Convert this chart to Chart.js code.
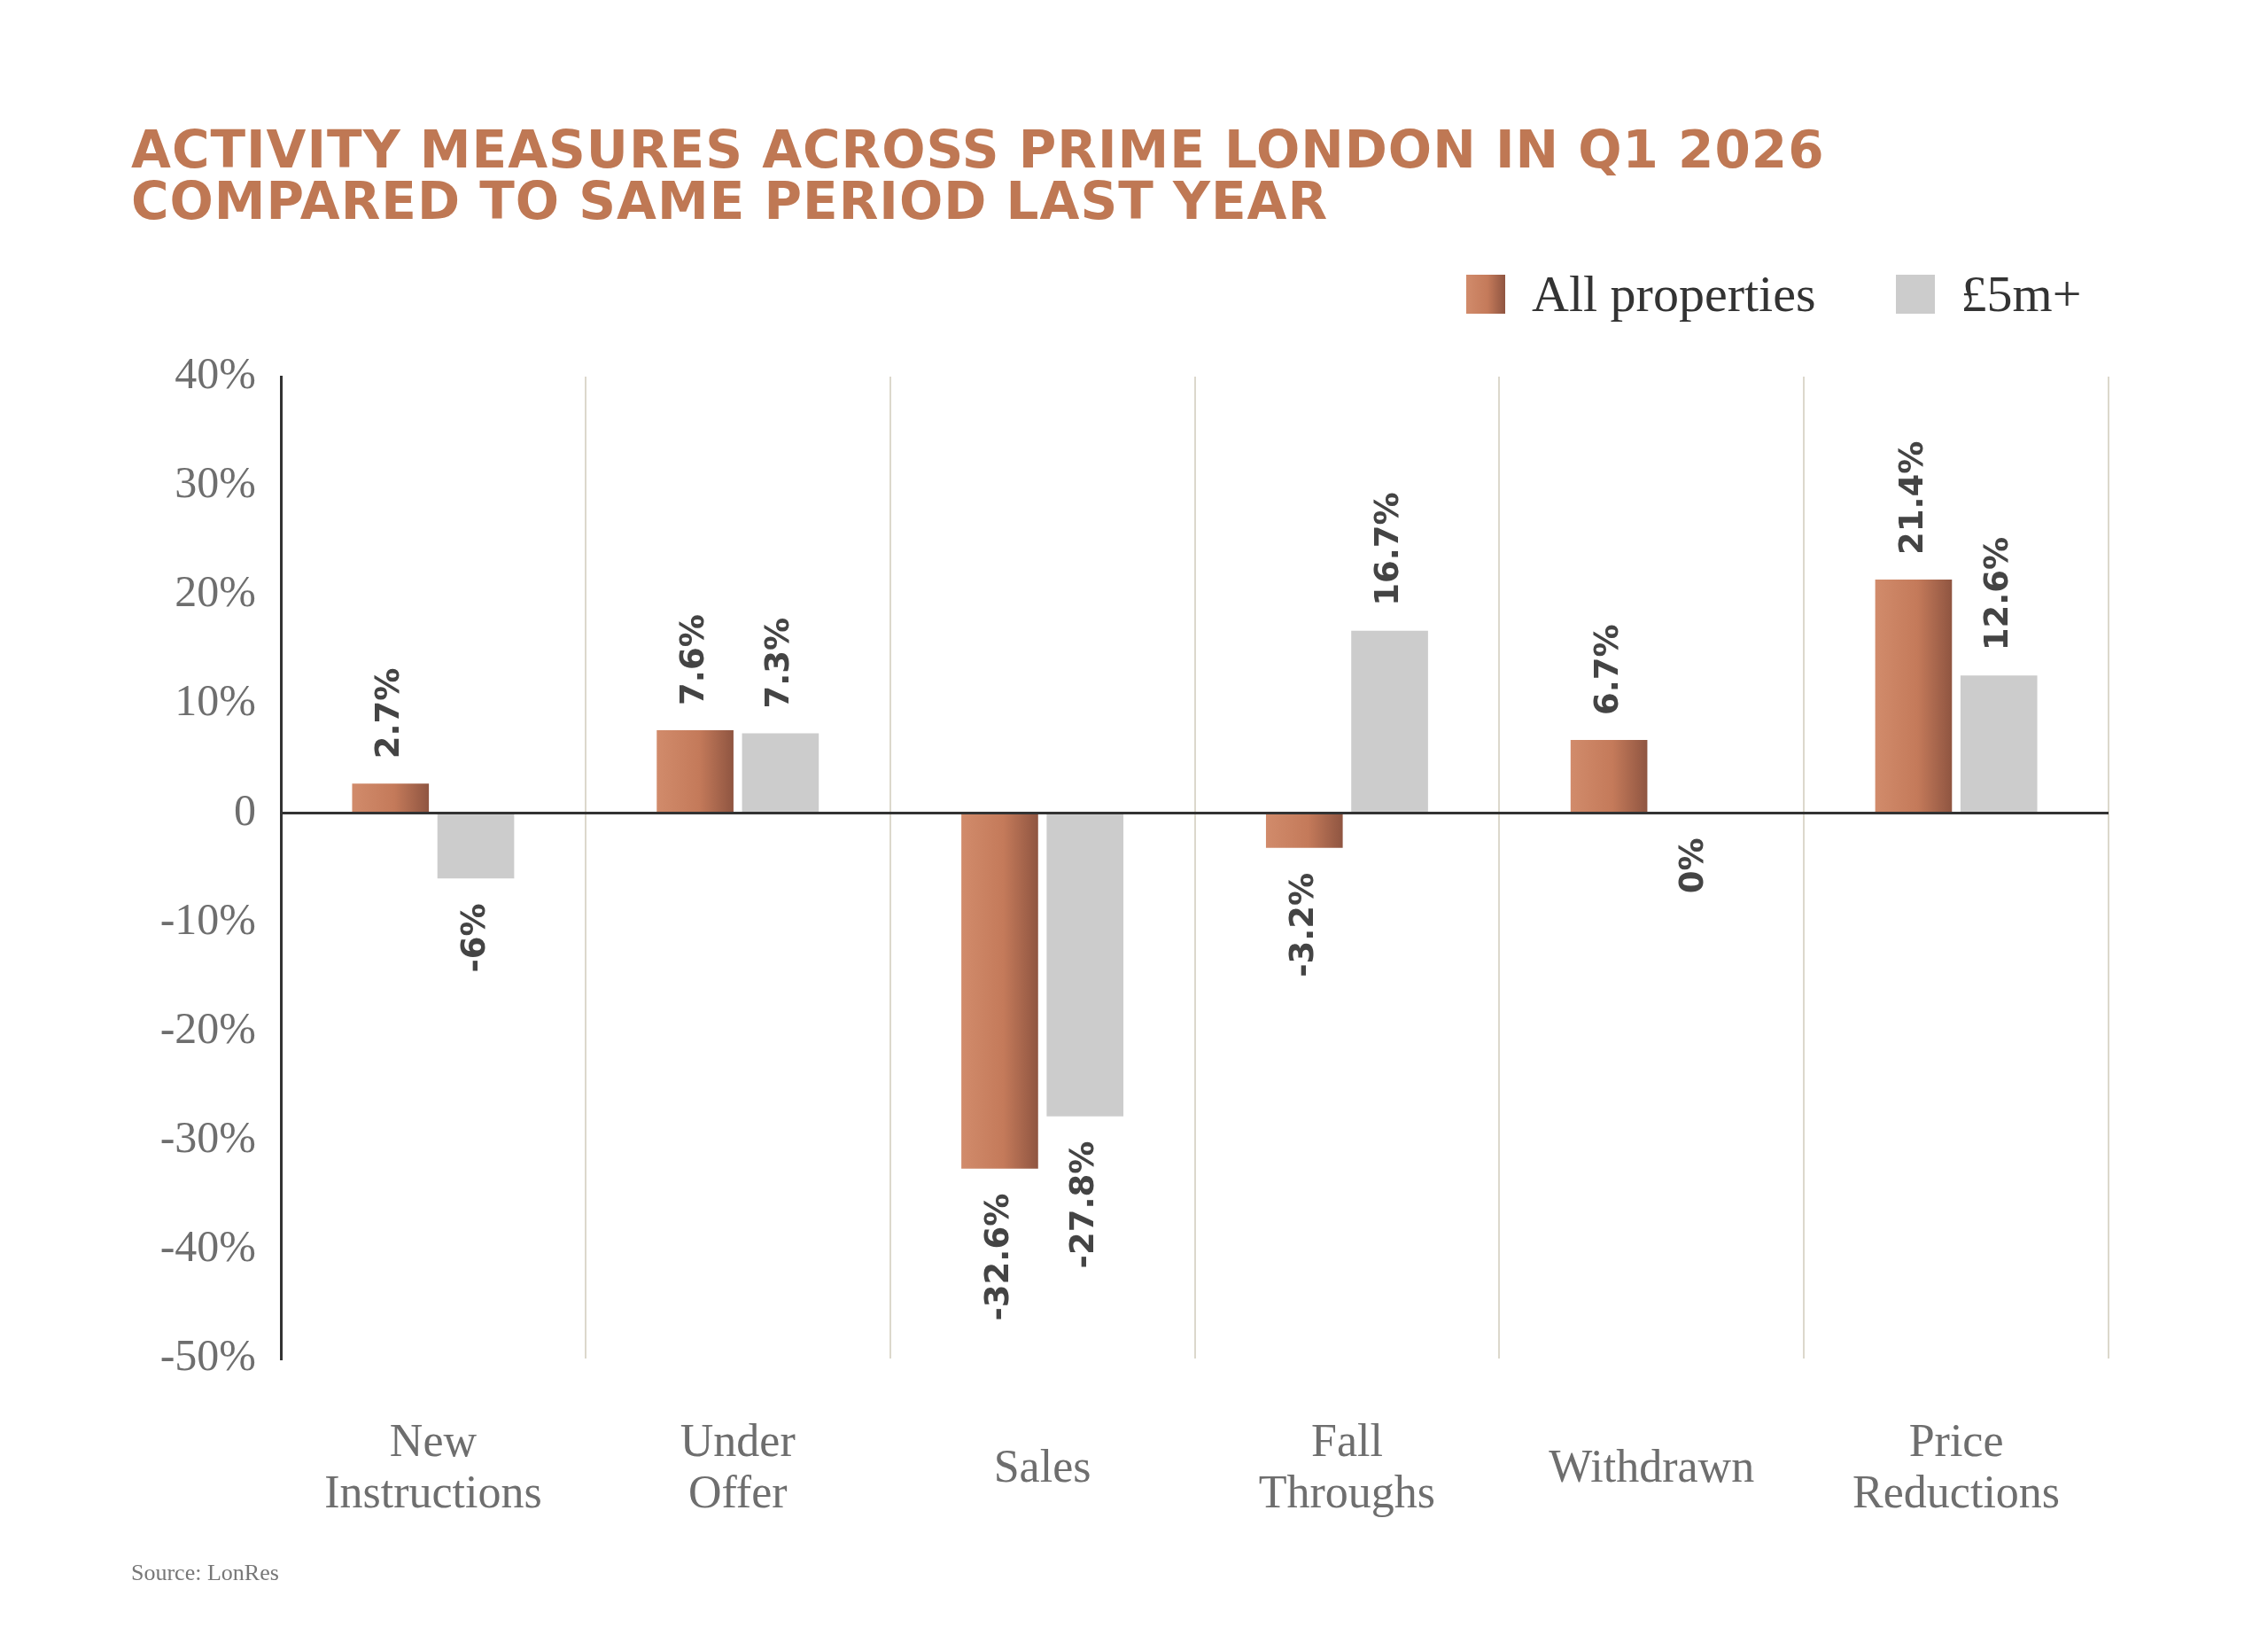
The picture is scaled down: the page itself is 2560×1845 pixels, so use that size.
<!DOCTYPE html>
<html>
<head>
<meta charset="utf-8">
<script src="https://cdn.jsdelivr.net/npm/chart.js@4"></script>
<style>
  html, body { margin: 0; padding: 0; background: #fff; }
  #wrap { position: relative; width: 2560px; height: 1845px; overflow: hidden; }
  #chart { position: absolute; left: 0; top: 0; }
  .title { position: absolute; left: 148px; top: 140px; color: #bf7854; font: bold 58px "DejaVu Sans", sans-serif; line-height: 58px; letter-spacing: 1px; }
  .legend { position: absolute; top: 298px; left: 1655px; font: 58px "Liberation Serif", serif; color: #333; display: flex; align-items: center; }
  .sw { width: 44px; height: 44px; display: inline-block; margin-right: 30px; }
  .source { position: absolute; left: 148px; top: 1760px; font: 26px "Liberation Serif", serif; color: #777; }
</style>
</head>
<body>
<div id="wrap">
  <canvas id="chart" width="2560" height="1845"></canvas>
  <div class="title">ACTIVITY MEASURES ACROSS PRIME LONDON IN Q1 2026<br>COMPARED TO SAME PERIOD LAST YEAR</div>
  <div class="legend">
    <span class="sw" style="background:linear-gradient(90deg,#d18b6b,#c47a5a 55%,#8f5541)"></span>All properties
    <span class="sw" style="background:#cccccc;margin-left:90px"></span>£5m+
  </div>
  <div class="source">Source: LonRes</div>
</div>
<script>
// categories and values
const categories = [['New', 'Instructions'], ['Under', 'Offer'], ['Sales'], ['Fall', 'Throughs'], ['Withdrawn'], ['Price', 'Reductions']];
const allProperties = [2.7, 7.6, -32.6, -3.2, 6.7, 21.4];
const fiveMillionPlus = [-6, 7.3, -27.8, 16.7, 0, 12.6];
const yTicks = [40, 30, 20, 10, 0, -10, -20, -30, -40, -50];

// copper gradient on the "All properties" bars
const gradientBars = {
  id: 'gradientBars',
  beforeDatasetsDraw(chart) {
    const c = chart.ctx;
    chart.getDatasetMeta(0).data.forEach(el => {
      const x0 = el.x - el.width / 2, x1 = el.x + el.width / 2;
      const g = c.createLinearGradient(x0, 0, x1, 0);
      g.addColorStop(0, '#d18b6b');
      g.addColorStop(0.55, '#c47a5a');
      g.addColorStop(1, '#8f5541');
      el.options = Object.assign({}, el.options, { backgroundColor: g });
    });
  }
};

// rotated value labels + category labels
const labelsPlugin = {
  id: 'labelsPlugin',
  afterDatasetsDraw(chart) {
    const c = chart.ctx;
    c.save();
    c.fillStyle = '#444';
    c.font = 'bold 37px "DejaVu Sans", sans-serif';
    c.textBaseline = 'middle';
    chart.data.datasets.forEach((ds, di) => {
      chart.getDatasetMeta(di).data.forEach((el, i) => {
        const v = ds.data[i];
        c.save();
        if (v > 0) {
          c.translate(el.x, el.y - 28);
          c.rotate(-Math.PI / 2);
          c.textAlign = 'left';
        } else {
          c.translate(el.x, Math.max(el.y, el.base) + 28);
          c.rotate(-Math.PI / 2);
          c.textAlign = 'right';
        }
        c.fillText(v + '%', 0, 0);
        c.restore();
      });
    });
    // x category labels, vertically centred
    const xs = chart.scales.x;
    c.fillStyle = '#6e6e6e';
    c.font = '52px "Liberation Serif", serif';
    c.textAlign = 'center';
    categories.forEach((lines, i) => {
      const x = xs.getPixelForValue(i);
      const mid = 1658;
      const lh = 58;
      lines.forEach((t, k) => {
        c.fillText(t, x, mid + (k - (lines.length - 1) / 2) * lh);
      });
    });
    c.restore();
  }
};

new Chart(document.getElementById('chart'), {
  type: 'bar',
  data: {
    labels: categories,
    datasets: [
      { label: 'All properties', data: allProperties, backgroundColor: '#c47a5a' },
      { label: '£5m+', data: fiveMillionPlus, backgroundColor: '#cccccc' }
    ]
  },
  options: {
    responsive: false,
    animation: false,
    devicePixelRatio: 1,
    categoryPercentage: 0.56,
    barPercentage: 0.9,
    layout: { padding: { top: 425, right: 180, left: 0, bottom: 0 } },
    plugins: { legend: { display: false }, tooltip: { enabled: false } },
    scales: {
      x: {
        afterFit: s => { s.height = 312; },
        ticks: { display: false },
        border: { display: false },
        grid: {
          offset: true,
          drawTicks: false,
          lineWidth: 2,
          color: ctx => (ctx.index === 0 || ctx.index === categories.length) ? 'transparent' : '#dcd8cc'
        }
      },
      y: {
        min: Math.min(...yTicks),
        max: Math.max(...yTicks),
        afterFit: s => { s.width = 317; },
        afterBuildTicks: s => { s.ticks = yTicks.map(v => ({ value: v })); },
        ticks: {
          color: '#6e6e6e',
          padding: 28,
          font: { family: '"Liberation Serif", serif', size: 50 },
          callback: v => v === 0 ? '0' : v + '%'
        },
        border: { display: true, color: '#333', width: 3 },
        grid: {
          drawTicks: false,
          lineWidth: 3,
          color: ctx => ctx.tick && ctx.tick.value === 0 ? '#333' : 'transparent'
        }
      }
    }
  },
  plugins: [gradientBars, labelsPlugin]
});
</script>
</body>
</html>
